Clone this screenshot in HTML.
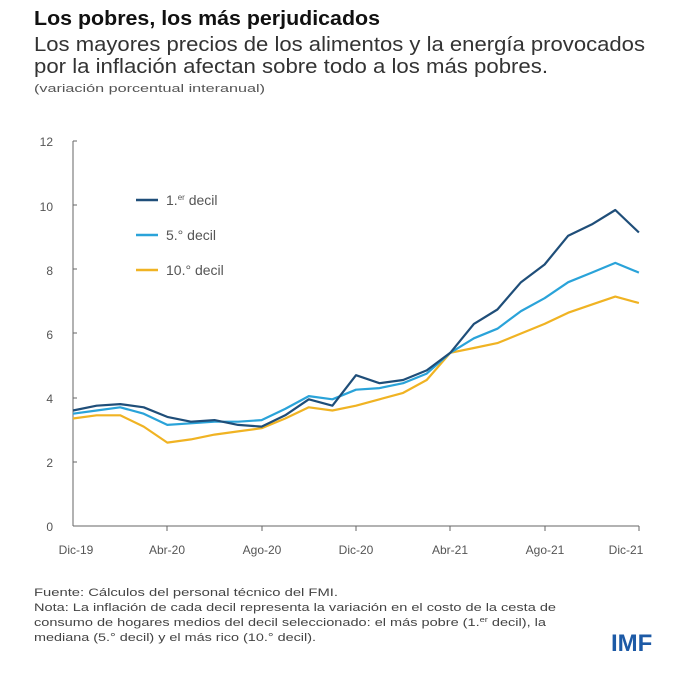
<!DOCTYPE html>
<html><head><meta charset="utf-8"><style>
body{margin:0;background:#fff;width:700px;height:677px;overflow:hidden;font-family:"Liberation Sans",sans-serif;}
</style></head><body>
<svg id="s" width="700" height="677" xmlns="http://www.w3.org/2000/svg" font-family="Liberation Sans, sans-serif">
<text x="34" y="25" font-size="20" font-weight="bold" fill="#111" textLength="346" lengthAdjust="spacingAndGlyphs">Los pobres, los más perjudicados</text>
<text x="34" y="51" font-size="20" fill="#333" textLength="611" lengthAdjust="spacingAndGlyphs">Los mayores precios de los alimentos y la energía provocados</text>
<text x="34" y="73" font-size="20" fill="#333" textLength="514" lengthAdjust="spacingAndGlyphs">por la inflación afectan sobre todo a los más pobres.</text>
<text x="34" y="92" font-size="11" fill="#555" textLength="231" lengthAdjust="spacingAndGlyphs">(variación porcentual interanual)</text>
<g font-size="12" fill="#555" text-anchor="end">
<text x="53" y="146">12</text><text x="53" y="211">10</text><text x="53" y="275">8</text><text x="53" y="339">6</text><text x="53" y="403">4</text><text x="53" y="467">2</text><text x="53" y="531">0</text>
</g>
<g stroke="#666" stroke-width="1" fill="none">
<line x1="73" y1="141" x2="73" y2="526"/><line x1="73" y1="526" x2="639" y2="526"/>
<line x1="73" y1="141" x2="77" y2="141"/>
<line x1="73" y1="205" x2="77" y2="205"/><line x1="73" y1="269" x2="77" y2="269"/><line x1="73" y1="333" x2="77" y2="333"/><line x1="73" y1="398" x2="77" y2="398"/><line x1="73" y1="462" x2="77" y2="462"/>
<line x1="167" y1="526" x2="167" y2="531"/><line x1="262" y1="526" x2="262" y2="531"/><line x1="356" y1="526" x2="356" y2="531"/><line x1="450" y1="526" x2="450" y2="531"/><line x1="545" y1="526" x2="545" y2="531"/><line x1="639" y1="526" x2="639" y2="531"/>
</g>
<g font-size="12" fill="#555" text-anchor="middle">
<text x="76" y="554">Dic-19</text><text x="167" y="554">Abr-20</text><text x="262" y="554">Ago-20</text><text x="356" y="554">Dic-20</text><text x="450" y="554">Abr-21</text><text x="545" y="554">Ago-21</text><text x="626" y="554">Dic-21</text>
</g>
<g id="lines" fill="none" stroke-width="2.2" stroke-linejoin="round"></g>
<g stroke-width="2.5">
<line x1="136" y1="200" x2="158" y2="200" stroke="#1f4e79"/>
<line x1="136" y1="235" x2="158" y2="235" stroke="#2aa3d9"/>
<line x1="136" y1="270" x2="158" y2="270" stroke="#f0b323"/>
</g>
<g font-size="14" fill="#555">
<text x="166" y="205">1.<tspan font-size="8" dy="-5">er</tspan><tspan dy="5"> decil</tspan></text>
<text x="166" y="240">5.° decil</text>
<text x="166" y="275">10.° decil</text>
</g>
<g font-size="11" fill="#444">
<text x="34" y="596" textLength="304" lengthAdjust="spacingAndGlyphs">Fuente: Cálculos del personal técnico del FMI.</text>
<text x="34" y="611" textLength="522" lengthAdjust="spacingAndGlyphs">Nota: La inflación de cada decil representa la variación en el costo de la cesta de</text>
<text x="34" y="626" textLength="512" lengthAdjust="spacingAndGlyphs">consumo de hogares medios del decil seleccionado: el más pobre (1.<tspan font-size="7" dy="-4">er</tspan><tspan dy="4"> decil), la</tspan></text>
<text x="34" y="641" textLength="282" lengthAdjust="spacingAndGlyphs">mediana (5.° decil) y el más rico (10.° decil).</text>
</g>
<text x="611" y="651" font-size="24" font-weight="bold" fill="#1d5aa6">IMF</text>
</svg>
<script>
var d={"#1f4e79":[3.6,3.75,3.8,3.7,3.4,3.25,3.3,3.15,3.1,3.45,3.95,3.75,4.7,4.45,4.55,4.85,5.4,6.3,6.75,7.6,8.15,9.05,9.4,9.85,9.15],
"#2aa3d9":[3.5,3.6,3.7,3.5,3.15,3.2,3.25,3.25,3.3,3.65,4.05,3.95,4.25,4.3,4.45,4.75,5.4,5.85,6.15,6.7,7.1,7.6,7.9,8.2,7.9],
"#f0b323":[3.35,3.45,3.45,3.1,2.6,2.7,2.85,2.95,3.05,3.35,3.7,3.6,3.75,3.95,4.15,4.55,5.4,5.55,5.7,6.0,6.3,6.65,6.9,7.15,6.95]};
var g=document.getElementById("lines"),o=["#f0b323","#2aa3d9","#1f4e79"];
o.forEach(function(c){var p=d[c].map(function(v,i){return (73+i*23.58).toFixed(1)+","+(526-v*32.08).toFixed(1)}).join(" ");
var e=document.createElementNS("http://www.w3.org/2000/svg","polyline");e.setAttribute("points",p);e.setAttribute("stroke",c);g.appendChild(e);});
</script>
</body></html>
